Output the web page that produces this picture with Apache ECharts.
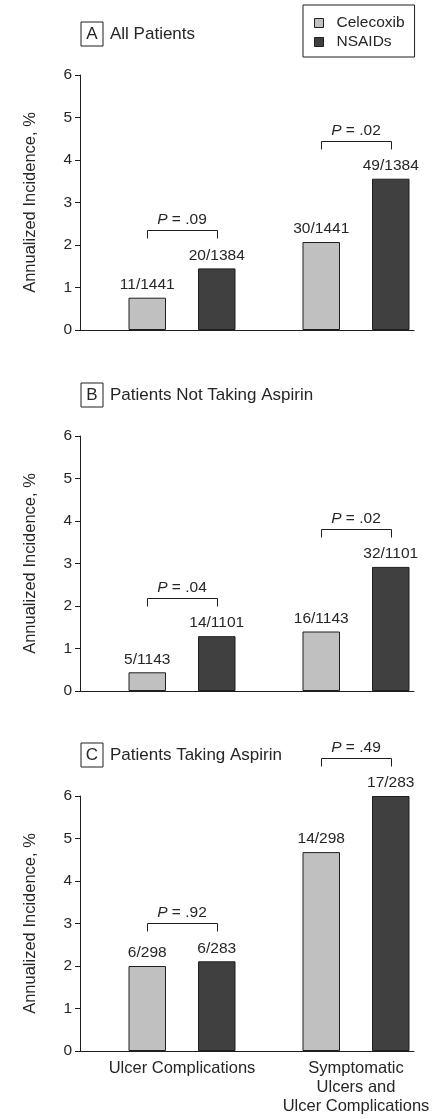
<!DOCTYPE html>
<html>
<head>
<meta charset="utf-8">
<script src="https://cdn.jsdelivr.net/npm/echarts@6/dist/echarts.min.js"></script>
<style>
  html, body { margin: 0; padding: 0; background: #fff; }
  #chart { width: 443px; height: 1119px; }
</style>
</head>
<body>
<div id="chart"></div>
<script>
// ---- data ----
const categories = ['Ulcer Complications', 'Symptomatic\nUlcers and\nUlcer Complications'];
const seriesNames = ['Celecoxib', 'NSAIDs'];
const panelLetters = ['A', 'B', 'C'];
const panelTitles = ['All Patients', 'Patients Not Taking Aspirin', 'Patients Taking Aspirin'];
const yTicks = [0, 1, 2, 3, 4, 5, 6];

const celecoxibA = [0.76, 2.07];
const nsaidsA = [1.45, 3.56];
const celecoxibCountsA = ['11/1441', '30/1441'];
const nsaidsCountsA = ['20/1384', '49/1384'];
const pValuesA = ['.09', '.02'];

const celecoxibB = [0.44, 1.40];
const nsaidsB = [1.29, 2.92];
const celecoxibCountsB = ['5/1143', '16/1143'];
const nsaidsCountsB = ['14/1101', '32/1101'];
const pValuesB = ['.04', '.02'];

const celecoxibC = [2.00, 4.68];
const nsaidsC = [2.11, 6.00];
const celecoxibCountsC = ['6/298', '14/298'];
const nsaidsCountsC = ['6/283', '17/283'];
const pValuesC = ['.92', '.49'];

// ---- style / layout ----
const FONT = "'Liberation Sans', Arial, Helvetica, sans-serif";
const TXT = '#262626';
const LINE = '#1f1f1f';
const LIGHT = '#c0c0c0';
const DARK = '#404040';
const BAR_W = 37.5;
const BAR_GAP_PX = 32;
const HALF = (BAR_W + BAR_GAP_PX) / 2;
const BRACKET_RISE = 38;
const PLOT_H = 255;
const panelTops = [75, 436, 796];

const panels = [
  { cel: celecoxibA, nsa: nsaidsA, celN: celecoxibCountsA, nsaN: nsaidsCountsA, p: pValuesA },
  { cel: celecoxibB, nsa: nsaidsB, celN: celecoxibCountsB, nsaN: nsaidsCountsB, p: pValuesB },
  { cel: celecoxibC, nsa: nsaidsC, celN: celecoxibCountsC, nsaN: nsaidsCountsC, p: pValuesC }
];

const grid = [], xAxis = [], yAxis = [], series = [], title = [];

panels.forEach((pn, i) => {
  const top = panelTops[i];
  const frameIdx = grid.length;
  grid.push({ left: 80, width: 334, top: top, height: PLOT_H });
  const barIdx = grid.length;
  grid.push({ left: 95, width: 354, top: top, height: PLOT_H });

  // frame axes (visible)
  xAxis.push({
    gridIndex: frameIdx, type: 'category', data: categories,
    axisLine: { lineStyle: { color: LINE, width: 1 } },
    axisTick: { show: false }, axisLabel: { show: false }, splitLine: { show: false }
  });
  yAxis.push({
    gridIndex: frameIdx, type: 'value', min: yTicks[0], max: yTicks[yTicks.length - 1], interval: 1,
    name: 'Annualized Incidence, %', nameLocation: 'middle', nameGap: 41,
    nameTextStyle: { fontFamily: FONT, fontSize: 16.5, color: TXT },
    axisLine: { show: true, lineStyle: { color: LINE, width: 1 } },
    axisTick: { show: true, length: 5, lineStyle: { color: LINE } },
    axisLabel: { fontFamily: FONT, fontSize: 15.5, color: TXT, margin: 8 },
    splitLine: { show: false }
  });

  // bar axes
  xAxis.push({
    gridIndex: barIdx, type: 'category', data: categories,
    axisLine: { show: false }, axisTick: { show: false }, splitLine: { show: false },
    axisLabel: {
      show: i === 2, interval: 0, fontFamily: FONT, fontSize: 16.5, color: TXT,
      lineHeight: 19, margin: 8
    }
  });
  yAxis.push({
    gridIndex: barIdx, type: 'value', min: yTicks[0], max: yTicks[yTicks.length - 1], show: false
  });

  const axisI = xAxis.length - 1;
  const mkLabel = (arr) => ({
    show: true, position: 'top', distance: 5,
    fontFamily: FONT, fontSize: 15.5, color: TXT,
    formatter: (p) => arr[p.dataIndex]
  });

  series.push({
    name: seriesNames[0], type: 'bar', xAxisIndex: axisI, yAxisIndex: axisI,
    data: pn.cel, barWidth: BAR_W, barGap: (BAR_GAP_PX / BAR_W * 100) + '%',
    itemStyle: { color: LIGHT, borderColor: LINE, borderWidth: 1 },
    label: mkLabel(pn.celN), emphasis: { disabled: true }
  });
  series.push({
    name: seriesNames[1], type: 'bar', xAxisIndex: axisI, yAxisIndex: axisI,
    data: pn.nsa, barWidth: BAR_W, barGap: (BAR_GAP_PX / BAR_W * 100) + '%',
    itemStyle: { color: DARK, borderColor: LINE, borderWidth: 1 },
    label: mkLabel(pn.nsaN), emphasis: { disabled: true }
  });

  const pvals = pn.p;
  series.push({
    type: 'custom', xAxisIndex: axisI, yAxisIndex: axisI, silent: true, clip: false,
    data: categories.map((c, k) => [k, pn.cel[k], pn.nsa[k]]),
    renderItem: (params, api) => {
      const k = api.value(0);
      const a = api.coord([k, api.value(1)]);
      const b = api.coord([k, api.value(2)]);
      const cx = a[0];
      const y = Math.round(Math.min(a[1], b[1]) - BRACKET_RISE) + 0.5;
      const x1 = Math.round(cx - HALF) + 0.5, x2 = Math.round(cx + HALF) + 0.5;
      return {
        type: 'group',
        children: [
          { type: 'polyline', shape: { points: [[x1, y + 8], [x1, y], [x2, y], [x2, y + 8]] },
            style: { stroke: LINE, lineWidth: 1, fill: null } },
          { type: 'text', x: cx, y: y - 3,
            style: {
              text: '{i|P} = ' + pvals[params.dataIndex],
              fontFamily: FONT, fontSize: 15.5, fill: TXT,
              align: 'center', verticalAlign: 'bottom',
              rich: { i: { fontStyle: 'italic', fontFamily: FONT, fontSize: 15.5, fill: TXT } }
            } }
        ]
      };
    }
  });

  title.push({
    left: 81, top: top - 53, padding: 0,
    text: '{b|' + panelLetters[i] + '}{t|' + panelTitles[i] + '}',
    textStyle: {
      fontWeight: 'normal',
      rich: {
        b: { fontFamily: FONT, fontSize: 17, fontWeight: 'normal', color: TXT, borderColor: LINE, borderWidth: 1,
             width: 22, height: 24, lineHeight: 24, align: 'center' },
        t: { fontFamily: FONT, fontSize: 17, fontWeight: 'normal', color: TXT, padding: [0, 0, 0, 7] }
      }
    }
  });
});

const chart = echarts.init(document.getElementById('chart'), null, { renderer: 'canvas' });
chart.setOption({
  animation: false,
  backgroundColor: '#fff',
  title: title,
  legend: {
    data: seriesNames, orient: 'vertical', left: 303, top: 5,
    padding: [10, 10, 7, 11], itemGap: 3,
    borderColor: LINE, borderWidth: 1,
    icon: 'rect', itemWidth: 9, itemHeight: 9,
    itemStyle: { borderColor: LINE, borderWidth: 1 },
    textStyle: { fontFamily: FONT, fontSize: 15.5, color: TXT, padding: [0, 0, 0, 8] },
    selectedMode: false
  },
  grid: grid,
  xAxis: xAxis,
  yAxis: yAxis,
  series: series
});
</script>
</body>
</html>
